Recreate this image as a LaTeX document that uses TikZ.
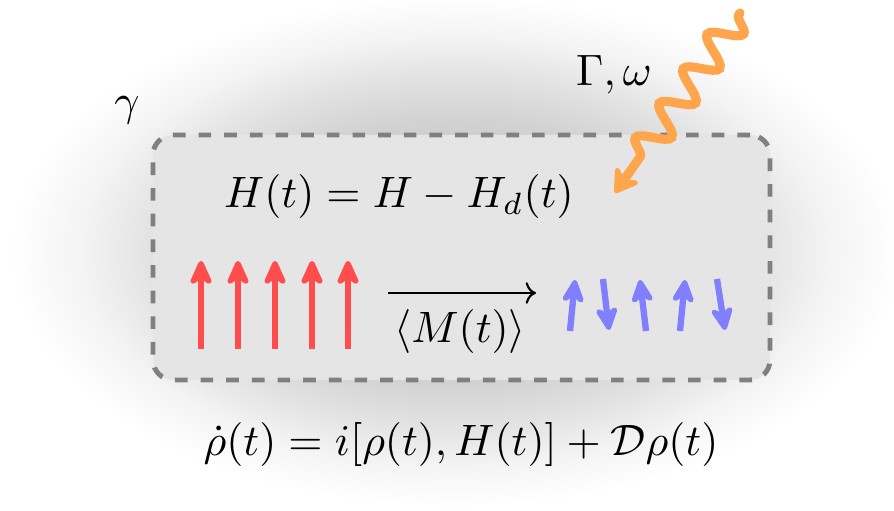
\documentclass[tikz,border=0pt]{standalone}
\usepackage{amsmath,amssymb}
\usepackage{xcolor}
\usepackage{tikz}
\usetikzlibrary{arrows.meta,calc,decorations.pathmorphing,positioning}

\definecolor{spinred}{RGB}{255,77,77}
\definecolor{spinblue}{RGB}{128,128,255}
\definecolor{photon}{RGB}{255,166,77}
\definecolor{boxline}{RGB}{128,128,128}
\definecolor{boxfill}{RGB}{229,229,229}

\pgfdeclareradialshading{bathglow}{\pgfpoint{0bp}{0bp}}{%
  color(0bp)=(gray!60); color(13bp)=(gray!35); color(17bp)=(gray!23);
  color(21bp)=(gray!9); color(25bp)=(white); color(50bp)=(white)}

\begin{document}
\begin{tikzpicture}[
  lbl/.style={inner sep=1pt, scale=1.25, transform shape},
  system/.style={draw=boxline, fill=boxfill, line width=1.4pt,
                 dash pattern=on 3.6pt off 3.7pt, rounded corners=0.2cm,
                 minimum width=6.17cm, minimum height=2.45cm, inner sep=0pt},
  upspin/.style={spinred, line width=1.9pt,
                 -{Stealth[length=9pt, width=8pt, round]}},
  mixspin/.style={spinblue, line width=1.8pt,
                  -{Stealth[length=8.5pt, width=8pt, round]}}
]
\useasboundingbox (0,0) rectangle (8.94,5.11);

% Environment glow
\shade[shading=bathglow] (4.55,2.6) ellipse [x radius=4.45cm, y radius=2.55cm];

% The driven system
\node[system] (sys) at (4.615,2.535) {};
\node[lbl] (ham) at (3.99,3.14) {$H(t) = H - H_d(t)$};

% Spins before: all up
\foreach \x in {2.01,2.38,2.75,3.12,3.48}{
  \draw[upspin] (\x,1.62) -- (\x,2.50);
}

% Magnetisation arrow
\coordinate (mfrom) at (3.88,2.18);
\coordinate (mto)   at (5.36,2.18);
\draw[->, line width=0.6pt] (mfrom) -- (mto);
\node[lbl] (mag) at (4.60,1.79) {$\langle M(t)\rangle$};

% Spins after: mixed
\foreach \a/\b/\c/\d in {5.70/1.80/5.75/2.31, 6.03/2.32/6.09/1.81,
                          6.46/1.80/6.40/2.31, 6.80/1.80/6.85/2.31,
                          7.17/2.32/7.25/1.81}{
  \draw[mixspin] (\a,\b) -- (\c,\d);
}

% Drive coming in
\coordinate (src) at (7.40,4.98);
\coordinate (hit) at (6.15,3.18);
\draw[photon, line width=2.6pt, line cap=round,
      -{Stealth[length=8pt, width=10pt, round]},
      decorate, decoration={snake, amplitude=0.15cm, segment length=0.42cm,
                            pre length=0.02cm, post length=0.25cm}]
  (src) -- (hit);
\node[lbl] (drive) at (6.14,4.36) {$\Gamma,\omega$};

% Loss rate and master equation
\node[lbl] (loss) at (1.27,4.01) {$\gamma$};
\node[lbl] (meq) at (4.61,0.66) {$\dot\rho(t) = i[\rho(t), H(t)] + \mathcal{D}\rho(t)$};

\end{tikzpicture}
\end{document}
